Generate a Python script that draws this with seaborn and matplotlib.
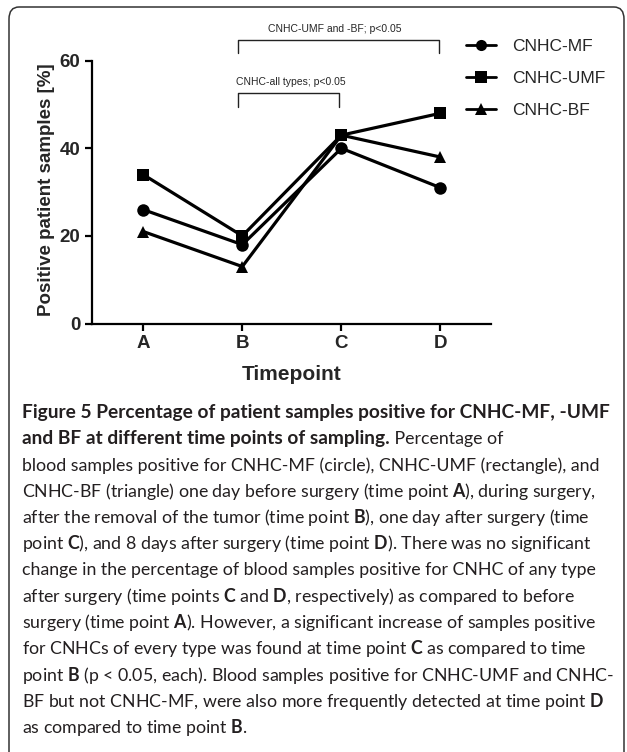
import matplotlib
matplotlib.use('Agg')
import matplotlib.pyplot as plt
import seaborn as sns
import pandas as pd
from matplotlib.patches import FancyBboxPatch
from matplotlib.lines import Line2D

# ---- data ----
timepoints = ['A', 'B', 'C', 'D']
series_names = ['CNHC-MF', 'CNHC-UMF', 'CNHC-BF']
mf_values = [26, 18, 40, 31]
umf_values = [34, 20, 43, 48]
bf_values = [21, 13, 43, 38]
y_ticks = [0, 20, 40, 60]
marker_map = {'CNHC-MF': 'o', 'CNHC-UMF': 's', 'CNHC-BF': '^'}
bracket_labels = ['CNHC-UMF and -BF; p<0.05', 'CNHC-all types; p<0.05']

caption_bold_1 = 'Figure 5 Percentage of patient samples positive for CNHC-MF, -UMF'
caption_bold_2 = 'and BF at different time points of sampling.'
caption_rest_2 = ' Percentage of'
caption_lines = [
    'blood samples positive for CNHC-MF (circle), CNHC-UMF (rectangle), and',
    r'CNHC-BF (triangle) one day before surgery (time point $\mathbf{A}$), during surgery,',
    r'after the removal of the tumor (time point $\mathbf{B}$), one day after surgery (time',
    r'point $\mathbf{C}$), and 8 days after surgery (time point $\mathbf{D}$). There was no significant',
    'change in the percentage of blood samples positive for CNHC of any type',
    r'after surgery (time points $\mathbf{C}$ and $\mathbf{D}$, respectively) as compared to before',
    r'surgery (time point $\mathbf{A}$). However, a significant increase of samples positive',
    r'for CNHCs of every type was found at time point $\mathbf{C}$ as compared to time',
    r'point $\mathbf{B}$ (p < 0.05, each). Blood samples positive for CNHC-UMF and CNHC-',
    r'BF but not CNHC-MF, were also more frequently detected at time point $\mathbf{D}$',
    r'as compared to time point $\mathbf{B}$.',
]

# ---- style ----
sns.set_theme(style='ticks')
plt.rcParams['font.family'] = ['Liberation Sans', 'DejaVu Sans']
plt.rcParams['mathtext.fontset'] = 'custom'
plt.rcParams['mathtext.rm'] = 'Lato'
plt.rcParams['mathtext.it'] = 'Lato:italic'
plt.rcParams['mathtext.bf'] = 'Lato:bold'

W, H = 627, 752
fig = plt.figure(figsize=(W / 100, H / 100), dpi=100)
fig.patch.set_facecolor('white')

ax_l, ax_r, ax_t, ax_b = 91.7, 491.0, 60.7, 323.5
ax = fig.add_axes([ax_l / W, 1 - ax_b / H, (ax_r - ax_l) / W, (ax_b - ax_t) / H])

df = pd.DataFrame({
    'Timepoint': timepoints * 3,
    'value': mf_values + umf_values + bf_values,
    'series': [s for s in series_names for _ in timepoints],
})
sns.lineplot(data=df, x='Timepoint', y='value', hue='series', style='series',
             markers=marker_map, dashes=False, palette=['black'] * 3,
             linewidth=2.3, markersize=9, markeredgewidth=0, ax=ax,
             legend=False, sort=False)

ax.set_xlim(-0.52, 3.51)
ax.set_ylim(0, 60)
ax.set_yticks(y_ticks)
sns.despine(ax=ax)
for s in ['left', 'bottom']:
    ax.spines[s].set_linewidth(1.6)
    ax.spines[s].set_color('black')
ax.tick_params(axis='both', width=1.6, length=5, color='black', labelsize=13.5)
ax.tick_params(axis='x', pad=3)
ax.tick_params(axis='y', pad=3)
for lab in ax.get_xticklabels() + ax.get_yticklabels():
    lab.set_fontweight('bold')
ax.set_facecolor('white')

ax.set_ylabel('Positive patient samples [%]', fontsize=13.5, fontweight='bold', va='center')
ax.yaxis.set_label_coords((47 - ax_l) / (ax_r - ax_l), (ax_b - 190) / (ax_b - ax_t))
ax.set_xlabel('Timepoint', fontsize=15, fontweight='bold', va='center')
ax.xaxis.set_label_coords((291.7 - ax_l) / (ax_r - ax_l), (ax_b - 375) / (ax_b - ax_t))

# significance brackets
ax.plot([0.96, 0.96, 2.99, 2.99], [61.8, 64.7, 64.7, 61.8], color='#222222', lw=1.0, clip_on=False)
ax.text(1.93, 67.2, bracket_labels[0], fontsize=7.5, ha='center', va='center', clip_on=False)
ax.plot([0.96, 0.96, 1.98, 1.98], [49.4, 52.6, 52.6, 49.4], color='#222222', lw=1.0, clip_on=False)
ax.text(1.485, 55.1, bracket_labels[1], fontsize=7.5, ha='center', va='center', clip_on=False)

# legend
handles = [Line2D([], [], color='black', marker=marker_map[n], lw=2.0, ms=8, mew=0) for n in series_names]
fig.legend(handles, series_names, loc='upper left', bbox_to_anchor=(466 / W, 1 - 39 / H),
           frameon=False, fontsize=12.5, handlelength=1.75, handletextpad=0.9,
           labelspacing=0.98, borderpad=0, borderaxespad=0)

# frame around figure
frame = FancyBboxPatch((9 / W, -0.05), (624 - 9) / W, (1 - 7 / H) + 0.05,
                       boxstyle='round,pad=0,rounding_size=0.016', transform=fig.transFigure,
                       facecolor='none', edgecolor='#333333', lw=1.1, clip_on=False)
fig.patches.append(frame)

# caption
renderer = fig.canvas.get_renderer()
text_color = '#231f20'
cap_left = 22 / W

def fit_size(txt, weight, target_px):
    t = fig.text(0, 0, txt, fontsize=12, fontfamily='Lato', fontweight=weight)
    w = t.get_window_extent(renderer).width
    t.remove()
    return 12 * target_px / w

size_bold = fit_size(caption_bold_1, 'bold', 608 - 22)
size_reg = fit_size(caption_lines[9], 'normal', 600 - 21)

base0 = 418.0
step = 26.25
fig.text(cap_left, 1 - base0 / H, caption_bold_1, fontsize=size_bold, fontfamily='Lato',
         fontweight='bold', va='baseline', ha='left', color=text_color)
tb = fig.text(cap_left, 1 - (base0 + step) / H, caption_bold_2, fontsize=size_bold, fontfamily='Lato',
              fontweight='bold', va='baseline', ha='left', color=text_color)
x_end = tb.get_window_extent(renderer).x1
fig.text(x_end / W, 1 - (base0 + step) / H, caption_rest_2, fontsize=size_reg, fontfamily='Lato',
         va='baseline', ha='left', color=text_color)
for i, line in enumerate(caption_lines):
    fig.text(cap_left, 1 - (base0 + step * (i + 2)) / H, line, fontsize=size_reg, fontfamily='Lato',
             va='baseline', ha='left', color=text_color)

fig.savefig('out.png', dpi=100)
